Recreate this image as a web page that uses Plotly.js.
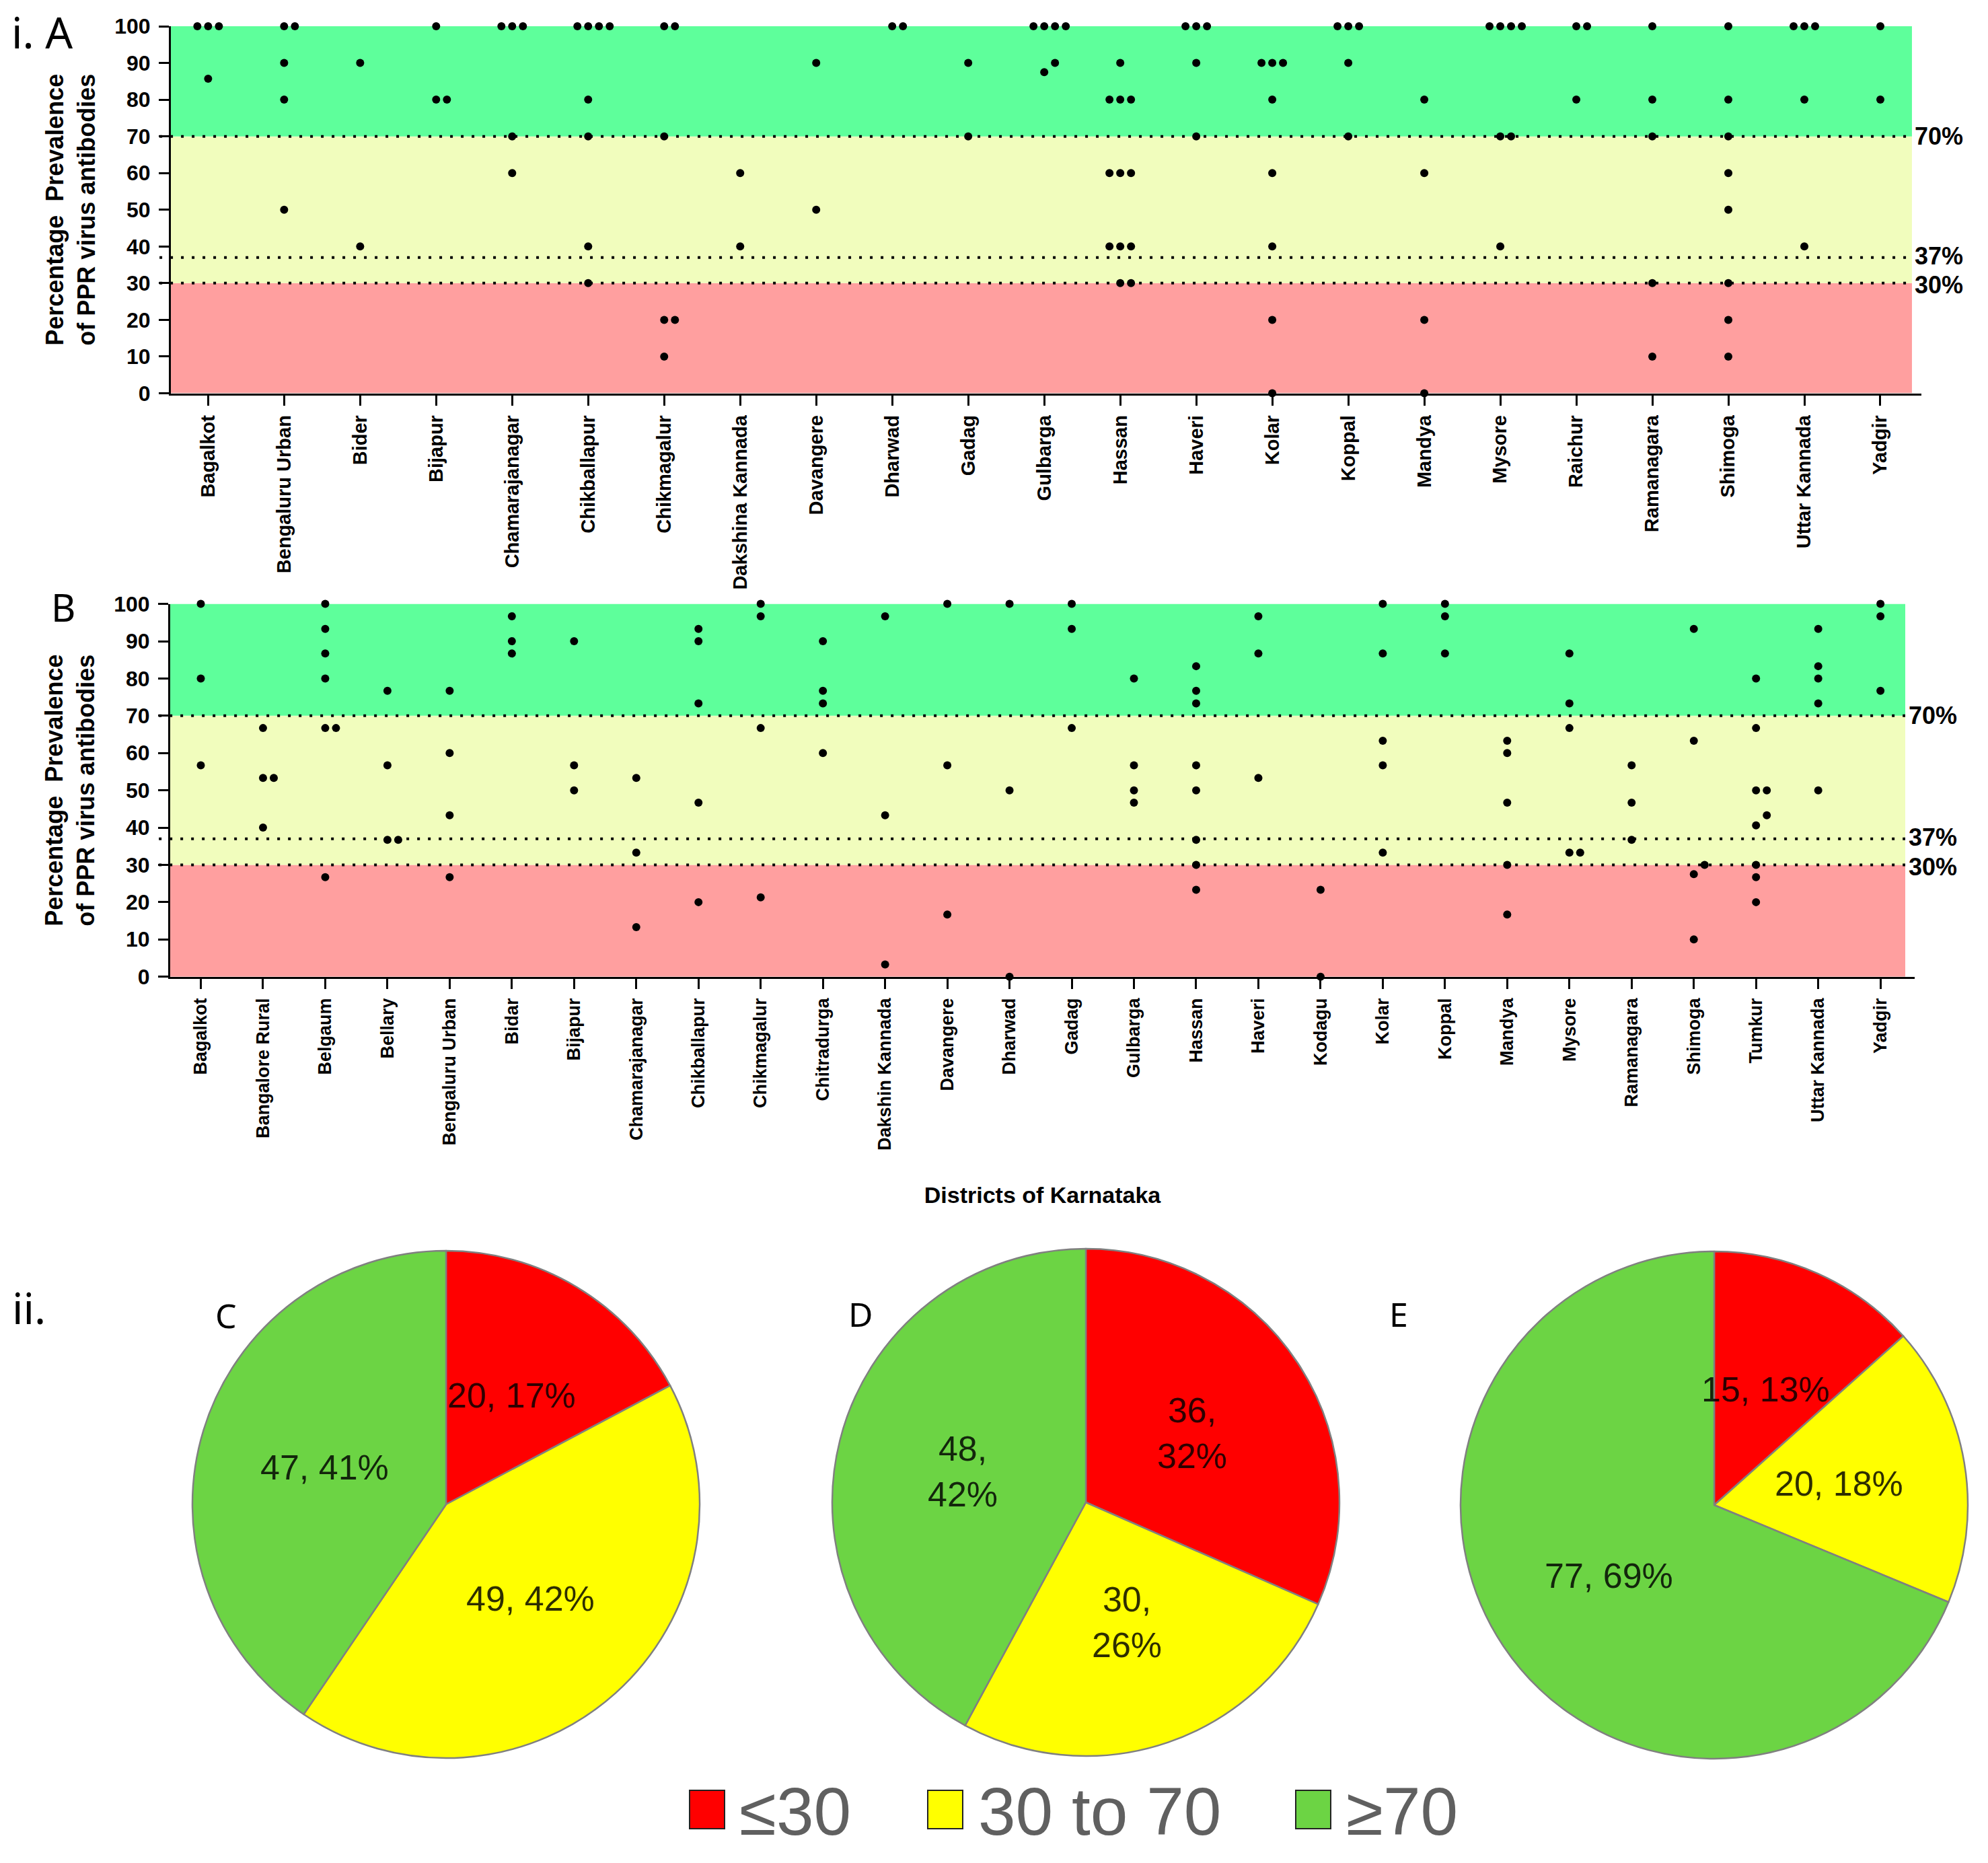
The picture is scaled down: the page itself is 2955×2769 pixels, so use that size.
<!DOCTYPE html>
<html><head><meta charset="utf-8">
<script src="https://cdn.plot.ly/plotly-3.0.1.min.js"></script>
<style>html,body{margin:0;padding:0;background:#fff}</style>
</head><body><div id="chart" style="width:2955px;height:2769px"></div>
<script>
// ---------------- DATA ----------------
const districtsA = ["Bagalkot","Bengaluru Urban","Bider","Bijapur","Chamarajanagar","Chikballapur","Chikmagalur","Dakshina Kannada","Davangere","Dharwad","Gadag","Gulbarga","Hassan","Haveri","Kolar","Koppal","Mandya","Mysore","Raichur","Ramanagara","Shimoga","Uttar Kannada","Yadgir"];
const prevalenceA = [
  [100,100,100,85.7],
  [100,100,90,80,50],
  [90,40],
  [100,80,80],
  [100,100,100,70,60],
  [100,100,100,100,80,70,40,30],
  [100,100,70,20,20,10],
  [60,40],
  [90,50],
  [100,100],
  [90,70],
  [100,100,100,100,90,87.5],
  [90,80,80,80,60,60,60,40,40,40,30,30],
  [100,100,100,90,70],
  [90,90,90,80,60,40,20,0],
  [100,100,100,90,70],
  [80,60,20,0],
  [100,100,100,100,70,70,40],
  [100,100,80],
  [100,80,70,30,10],
  [100,80,70,60,50,30,20,10],
  [100,100,100,80,40],
  [100,80]
];
const districtsB = ["Bagalkot","Bangalore Rural","Belgaum","Bellary","Bengaluru Urban","Bidar","Bijapur","Chamarajanagar","Chikballapur","Chikmagalur","Chitradurga","Dakshin Kannada","Davangere","Dharwad","Gadag","Gulbarga","Hassan","Haveri","Kodagu","Kolar","Koppal","Mandya","Mysore","Ramanagara","Shimoga","Tumkur","Uttar Kannada","Yadgir"];
const prevalenceB = [
  [100,80,56.7],
  [66.7,53.3,53.3,40],
  [100,93.3,86.7,80,66.7,66.7,26.7],
  [76.7,56.7,36.7,36.7],
  [76.7,60,43.3,26.7],
  [96.7,90,86.7],
  [90,56.7,50],
  [53.3,33.3,13.3],
  [93.3,90,73.3,46.7,20],
  [100,96.7,66.7,21.3],
  [90,76.7,73.3,60],
  [96.7,43.3,3.3],
  [100,56.7,16.7],
  [100,50,0],
  [100,93.3,66.7],
  [80,56.7,50,46.7],
  [83.3,76.7,73.3,56.7,50,36.7,30,23.3],
  [96.7,86.7,53.3],
  [23.3,0],
  [100,86.7,63.3,56.7,33.3],
  [100,96.7,86.7],
  [63.3,60,46.7,30,16.7],
  [86.7,73.3,66.7,33.3,33.3],
  [56.7,46.7,36.7],
  [93.3,63.3,30,27.5,10],
  [80,66.7,50,50,43.3,40.6,30,26.7,20],
  [93.3,83.3,80,73.3,50],
  [100,96.7,76.7]
];
const yTicks = [0,10,20,30,40,50,60,70,80,90,100];
const thresholds = [70, 37, 30];
const thresholdLabels = ["70%","37%","30%"];
const bandEdges = [0, 30, 70, 100];
const seroCategories = ["\u226430", "30 to 70", "\u226570"];
const pieNames = ["C", "D", "E"];
const countsC = [20, 49, 47];
const countsD = [36, 30, 48];
const countsE = [15, 20, 77];
const yTitle = "Percentage  Prevalence<br>of PPR virus antibodies";
const xTitle = "Districts of Karnataka";

// ---------------- STYLE / LAYOUT ----------------
const W = 2955, H = 2769;
const bandColors = ["#ff9f9f", "#f1fdbd", "#5eff9b"];
const pieColors = ["#ff0000", "#ffff00", "#6cd444"];
const AX = "Liberation Sans, Arial, sans-serif";
const px2x = p => p / W, px2y = p => 1 - p / H;
const labelShift = [0, 2, -3];

const panels = [
  {names: districtsA, vals: prevalenceA, xa: "x", ya: "y", left: 254, right: 2856, top: 39, bottom: 584.5,
   range: [-0.49, 22.54], fillEnd: 0.9946, lblX: 2845, tickFont: 29},
  {names: districtsB, vals: prevalenceB, xa: "x2", ya: "y2", left: 253, right: 2846, top: 897.6, bottom: 1451.7,
   range: [-0.492, 27.55], fillEnd: 0.9946, lblX: 2836, tickFont: 27}
];

function jitter(values, idx, step) {
  const sorted = values.slice().sort((a, b) => a - b);
  const xs = [], ys = [];
  let g = [];
  const flush = () => {
    const base = Math.floor((g.length - 1) / 2);
    g.forEach((v, j) => { xs.push(idx + (j - base) * step); ys.push(v); });
    g = [];
  };
  sorted.forEach(v => { if (g.length && v - g[g.length - 1] >= 3) flush(); g.push(v); });
  flush();
  return {xs, ys};
}

const traces = [], shapes = [], annotations = [];
const layout = {
  width: W, height: H, margin: {l: 0, r: 0, t: 0, b: 0},
  paper_bgcolor: "#fff", plot_bgcolor: "#fff", showlegend: false,
  font: {family: AX, color: "#000"}
};

panels.forEach((p, pi) => {
  const pxPerUnit = (p.right - p.left) / (p.range[1] - p.range[0]);
  const step = 16 / pxPerUnit;
  const X = [], Y = [];
  p.vals.forEach((vals, i) => { const j = jitter(vals, i, step); X.push(...j.xs); Y.push(...j.ys); });
  traces.push({type: "scatter", mode: "markers", x: X, y: Y, xaxis: p.xa, yaxis: p.ya,
    marker: {color: "#000", size: 12}, cliponaxis: false, hoverinfo: "y"});

  const xk = pi === 0 ? "xaxis" : "xaxis2", yk = pi === 0 ? "yaxis" : "yaxis2";
  layout[xk] = {
    domain: [px2x(p.left), px2x(p.right)], range: p.range, anchor: p.ya,
    tickmode: "array", tickvals: p.names.map((_, i) => i), ticktext: p.names, tickangle: -90,
    ticks: "outside", ticklen: 15, tickwidth: 3, tickcolor: "#000",
    showline: true, linewidth: 3, linecolor: "#000", showgrid: false, zeroline: false,
    tickfont: {family: AX, size: p.tickFont, weight: "bold", color: "#000"}, ticklabelstandoff: 3,
    fixedrange: true
  };
  if (pi === 1) layout[xk].title = {text: xTitle, font: {family: AX, size: 34, weight: "bold"}, standoff: 56};
  layout[yk] = {
    domain: [px2y(p.bottom), px2y(p.top)], range: [0, 100], anchor: p.xa,
    tickmode: "array", tickvals: yTicks,
    ticks: "outside", ticklen: 15, tickwidth: 3, tickcolor: "#000",
    showline: true, linewidth: 3, linecolor: "#000", showgrid: false, zeroline: false,
    tickfont: {family: AX, size: 32, weight: "bold", color: "#000"}, ticklabelstandoff: 6,
    title: {text: yTitle, font: {family: AX, size: 36, weight: "bold"}, standoff: 18},
    fixedrange: true
  };
  const xd = p.xa + " domain";
  for (let b = 0; b < 3; b++) {
    shapes.push({type: "rect", xref: xd, yref: p.ya, x0: 0, x1: p.fillEnd, y0: bandEdges[b], y1: bandEdges[b + 1],
      fillcolor: bandColors[b], line: {width: 0}, layer: "below"});
  }
  thresholds.forEach((t, k) => {
    shapes.push({type: "line", xref: xd, yref: p.ya, x0: -0.0065, x1: p.fillEnd, y0: t, y1: t,
      line: {color: "#000", width: 4, dash: "4px,12px"}, layer: "below"});
    annotations.push({xref: "paper", yref: p.ya, x: px2x(p.lblX), y: t, yshift: labelShift[k],
      xanchor: "left", yanchor: "middle", borderpad: 0,
      text: thresholdLabels[k], showarrow: false, font: {family: AX, size: 36, weight: "bold", color: "#000"}});
  });
});

// panel letters
const NS = "Noto Sans, Open Sans, sans-serif";
annotations.push({xref: "paper", yref: "paper", x: px2x(15), y: px2y(2), xanchor: "left", yanchor: "top",
  text: "i. A", showarrow: false, font: {family: NS, size: 64, color: "#000"}});
[["B", 74, 901.6, 56], ["ii.", 16, 1943, 64],
 ["C", 318, 1955, 50], ["D", 1259, 1953, 50], ["E", 2063, 1953, 50]].forEach(([t, x, y, s]) => {
  annotations.push({xref: "paper", yref: "paper", x: px2x(x), y: px2y(y), xanchor: "left", yanchor: "middle",
    text: t, showarrow: false, font: {family: NS, size: s, color: "#000"}});
});

// pies
const pieCounts = [countsC, countsD, countsE];
const pieGeom = [{cx: 663, cy: 2236, wrap: false}, {cx: 1614, cy: 2233, wrap: true}, {cx: 2548, cy: 2237, wrap: false}];
const R = 377;
pieCounts.forEach((counts, k) => {
  const g = pieGeom[k];
  traces.push({type: "pie", values: counts, labels: seroCategories, name: pieNames[k], sort: false,
    direction: "clockwise", rotation: 0, textinfo: "none", hoverinfo: "label+value+percent",
    marker: {colors: pieColors, line: {color: "#808080", width: 2.5}},
    domain: {x: [px2x(g.cx - R), px2x(g.cx + R)], y: [px2y(g.cy + R), px2y(g.cy - R)]}});
  const total = counts.reduce((a, b) => a + b, 0);
  let cum = 0;
  counts.forEach(v => {
    const mid = (cum + v / 2) / total * 2 * Math.PI; cum += v;
    const pct = Math.round(v / total * 100);
    const px = g.cx + 0.5 * R * Math.sin(mid), py = g.cy - 0.5 * R * Math.cos(mid);
    annotations.push({xref: "paper", yref: "paper", x: px2x(px), y: px2y(py), xanchor: "center", yanchor: "middle",
      text: g.wrap ? `${v},<br>${pct}%` : `${v}, ${pct}%`, showarrow: false,
      font: {family: AX, size: 52, color: "rgba(0,0,0,0.82)"}});
  });
});

// legend (categories)
const legendPos = [{sx: 1025, tx: 1097}, {sx: 1379, tx: 1452}, {sx: 1926, tx: 1999}];
seroCategories.forEach((c, k) => {
  const L = legendPos[k];
  shapes.push({type: "rect", xref: "paper", yref: "paper", x0: px2x(L.sx), x1: px2x(L.sx + 52),
    y0: px2y(2718), y1: px2y(2661), fillcolor: pieColors[k], line: {color: "#222", width: 2}});
  annotations.push({xref: "paper", yref: "paper", x: px2x(L.tx), y: px2y(2692), xanchor: "left", yanchor: "middle",
    text: c, showarrow: false, font: {family: "Liberation Sans Narrow, Arial Narrow, Liberation Sans, sans-serif", size: 100, color: "#606060"}});
});

layout.shapes = shapes;
layout.annotations = annotations;
Plotly.newPlot("chart", traces, layout, {staticPlot: true, displayModeBar: false});
</script></body></html>
